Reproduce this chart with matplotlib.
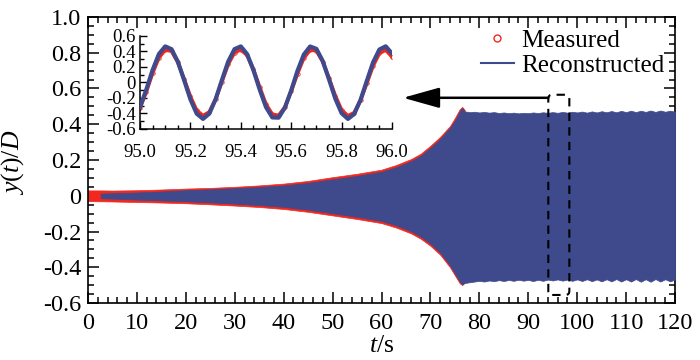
import matplotlib
matplotlib.use('Agg')
import matplotlib.pyplot as plt
from matplotlib.lines import Line2D
from matplotlib.patches import FancyBboxPatch
from matplotlib.ticker import MultipleLocator, FuncFormatter

plt.rcParams['font.family'] = ['Liberation Serif', 'DejaVu Serif']
plt.rcParams['mathtext.fontset'] = 'custom'
plt.rcParams['mathtext.rm'] = 'Liberation Serif'
plt.rcParams['mathtext.it'] = 'Liberation Serif:italic'
plt.rcParams['axes.unicode_minus'] = False

RED = '#f0281e'
BLUE = '#3e4a8c'

# envelope of the measured response (main plot)
t_meas = [0, 2.6, 5, 10, 15, 20, 25, 30, 35, 40, 45, 50, 55, 60, 63, 66, 68,
          70, 72, 74, 75, 76, 76.5, 77]
meas_up = [0.030, 0.030, 0.029, 0.031, 0.035, 0.040, 0.044, 0.050, 0.058, 0.068,
           0.083, 0.104, 0.123, 0.146, 0.172, 0.205, 0.235, 0.28, 0.33, 0.39,
           0.435, 0.485, 0.497, 0.48]
meas_lo = [-0.030, -0.031, -0.032, -0.035, -0.038, -0.042, -0.048, -0.055, -0.063,
           -0.074, -0.090, -0.110, -0.130, -0.153, -0.178, -0.210, -0.24, -0.28,
           -0.33, -0.40, -0.445, -0.49, -0.50, -0.485]

# envelope of the reconstructed response (main plot)
t_rec = [2.6, 5, 10, 15, 20, 25, 30, 35, 40, 45, 50, 55, 60, 63, 66, 68, 70, 72,
         74, 75, 76, 76.5] + list(range(77, 121))
rec_up = [0.012, 0.014, 0.018, 0.024, 0.031, 0.036, 0.042, 0.049, 0.058, 0.072,
          0.092, 0.111, 0.134, 0.160, 0.193, 0.223, 0.268, 0.318, 0.38, 0.42,
          0.472, 0.490,
          0.472, 0.468, 0.470, 0.466, 0.469, 0.465, 0.468, 0.463, 0.466, 0.462,
          0.465, 0.461, 0.464, 0.462, 0.466, 0.463, 0.467, 0.464, 0.468, 0.464,
          0.469, 0.465, 0.470, 0.466, 0.471, 0.465, 0.472, 0.466, 0.473, 0.467,
          0.474, 0.467, 0.475, 0.468, 0.476, 0.468, 0.476, 0.469, 0.477, 0.469,
          0.477, 0.470, 0.476, 0.470]
rec_lo = [-0.014, -0.016, -0.021, -0.026, -0.031, -0.037, -0.044, -0.052, -0.062,
          -0.078, -0.098, -0.118, -0.141, -0.166, -0.198, -0.228, -0.268, -0.318,
          -0.39, -0.435, -0.48, -0.495,
          -0.488, -0.484, -0.480, -0.476, -0.480, -0.474, -0.478, -0.472, -0.477,
          -0.471, -0.476, -0.470, -0.475, -0.471, -0.477, -0.470, -0.476, -0.469,
          -0.474, -0.468, -0.475, -0.469, -0.476, -0.468, -0.477, -0.467, -0.478,
          -0.468, -0.479, -0.467, -0.479, -0.466, -0.480, -0.467, -0.480, -0.466,
          -0.481, -0.467, -0.481, -0.466, -0.480, -0.467, -0.479, -0.468]

# zoomed window 95-96 s (inset)
t_zoom = [95.000, 95.025, 95.050, 95.075, 95.100, 95.125, 95.150, 95.175, 95.200,
          95.225, 95.250, 95.275, 95.300, 95.325, 95.350, 95.375, 95.400, 95.425,
          95.450, 95.475, 95.500, 95.525, 95.550, 95.575, 95.600, 95.625, 95.650,
          95.675, 95.700, 95.725, 95.750, 95.775, 95.800, 95.825, 95.850, 95.875,
          95.900, 95.925, 95.950, 95.975, 96.000]
zoom_rec = [-0.318, -0.092, 0.161, 0.367, 0.466, 0.430, 0.270, 0.031, -0.217,
            -0.402, -0.470, -0.402, -0.217, 0.031, 0.270, 0.430, 0.466, 0.367,
            0.161, -0.092, -0.318, -0.451, -0.454, -0.325, -0.102, 0.151, 0.360,
            0.465, 0.434, 0.278, 0.041, -0.208, -0.396, -0.470, -0.407, -0.226,
            0.020, 0.261, 0.426, 0.467, 0.373]
zoom_meas = [-0.330, -0.120, 0.120, 0.320, 0.420, 0.405, 0.262, 0.045, -0.180,
             -0.360, -0.428, -0.380, -0.215, 0.010, 0.235, 0.385, 0.425, 0.350,
             0.170, -0.060, -0.280, -0.410, -0.425, -0.318, -0.115, 0.115, 0.315,
             0.418, 0.410, 0.270, 0.055, -0.170, -0.355, -0.430, -0.390, -0.230,
             -0.010, 0.215, 0.375, 0.420, 0.330]

fmt = FuncFormatter(lambda v, p: '0' if abs(v) < 1e-9 else f'{v:.1f}')

fig = plt.figure(figsize=(7, 3.6), dpi=100)
ax = fig.add_axes([0.1257, 0.1583, 0.8386, 0.7945])

ax.fill_between(t_meas, meas_lo, meas_up, color=RED, lw=0.5, zorder=2)
ax.fill_between(t_rec, rec_lo, rec_up, color=BLUE, lw=0.5, zorder=3)

ax.set_xlim(0, 120)
ax.set_ylim(-0.6, 1.0)
ax.xaxis.set_major_locator(MultipleLocator(10))
ax.xaxis.set_minor_locator(MultipleLocator(2))
ax.yaxis.set_major_locator(MultipleLocator(0.2))
ax.yaxis.set_minor_locator(MultipleLocator(0.05))
ax.yaxis.set_major_formatter(fmt)
ax.tick_params(which='both', direction='in', top=True, right=True, width=1.1,
               labelsize=17.5)
ax.tick_params(axis='x', pad=7)
ax.tick_params(axis='y', pad=5)
ax.tick_params(which='major', length=8)
ax.tick_params(which='minor', length=4)
for s in ax.spines.values():
    s.set_linewidth(1.2)

ax.set_xlabel(r'$t$/s', fontsize=18.5)
ax.set_ylabel(r'$y(t)/D$', fontsize=18.5)
ax.xaxis.set_label_coords(0.5, -0.112)
ax.yaxis.set_label_coords(-0.105, 0.49)

# dashed window and arrow
box = FancyBboxPatch((94.1, -0.555), 4.3, 1.12,
                     boxstyle='round,pad=0,rounding_size=0.8',
                     mutation_aspect=0.0275, fill=False, ec='k', lw=1.5,
                     ls=(0, (4, 3)), zorder=5)
ax.add_patch(box)
ax.annotate('', xy=(64.4, 0.548), xytext=(94.1, 0.548),
            arrowprops=dict(arrowstyle='-|>,head_length=1.5,head_width=0.42',
                            mutation_scale=15, lw=1.8, color='k',
                            shrinkA=0, shrinkB=0), zorder=6)

handles = [Line2D([], [], marker='o', mfc='none', mec=RED, mew=1.0, ms=5, ls='none'),
           Line2D([], [], color=BLUE, lw=1.5)]
ax.legend(handles, ['Measured', 'Reconstructed'], loc='upper right',
          bbox_to_anchor=(0.982, 0.958), frameon=False, fontsize=18,
          borderpad=0, borderaxespad=0, handlelength=1.3, handletextpad=0.3,
          labelspacing=0.12)

# inset
axi = fig.add_axes([0.2, 0.6417, 0.36, 0.2583])
axi.plot(t_zoom, zoom_meas, color=RED, lw=2.6, marker='o', ms=2.5, mfc='none',
         mec=RED, mew=0.6, zorder=2)
axi.plot(t_zoom, zoom_rec, color=BLUE, lw=3.0, zorder=3)
axi.set_xlim(95.0, 96.0)
axi.set_ylim(-0.6, 0.6)
axi.xaxis.set_major_locator(MultipleLocator(0.2))
axi.xaxis.set_minor_locator(MultipleLocator(0.05))
axi.yaxis.set_major_locator(MultipleLocator(0.2))
axi.yaxis.set_minor_locator(MultipleLocator(0.1))
axi.yaxis.set_major_formatter(fmt)
axi.spines['top'].set_visible(False)
axi.spines['right'].set_visible(False)
for s in ('left', 'bottom'):
    axi.spines[s].set_linewidth(1.1)
axi.tick_params(which='both', direction='in', width=1.0, labelsize=13.5)
axi.tick_params(axis='x', pad=11)
axi.tick_params(axis='y', pad=3)
axi.tick_params(which='major', length=5)
axi.tick_params(which='minor', length=3)
axi.patch.set_alpha(0)

fig.savefig('out.png', dpi=100)
